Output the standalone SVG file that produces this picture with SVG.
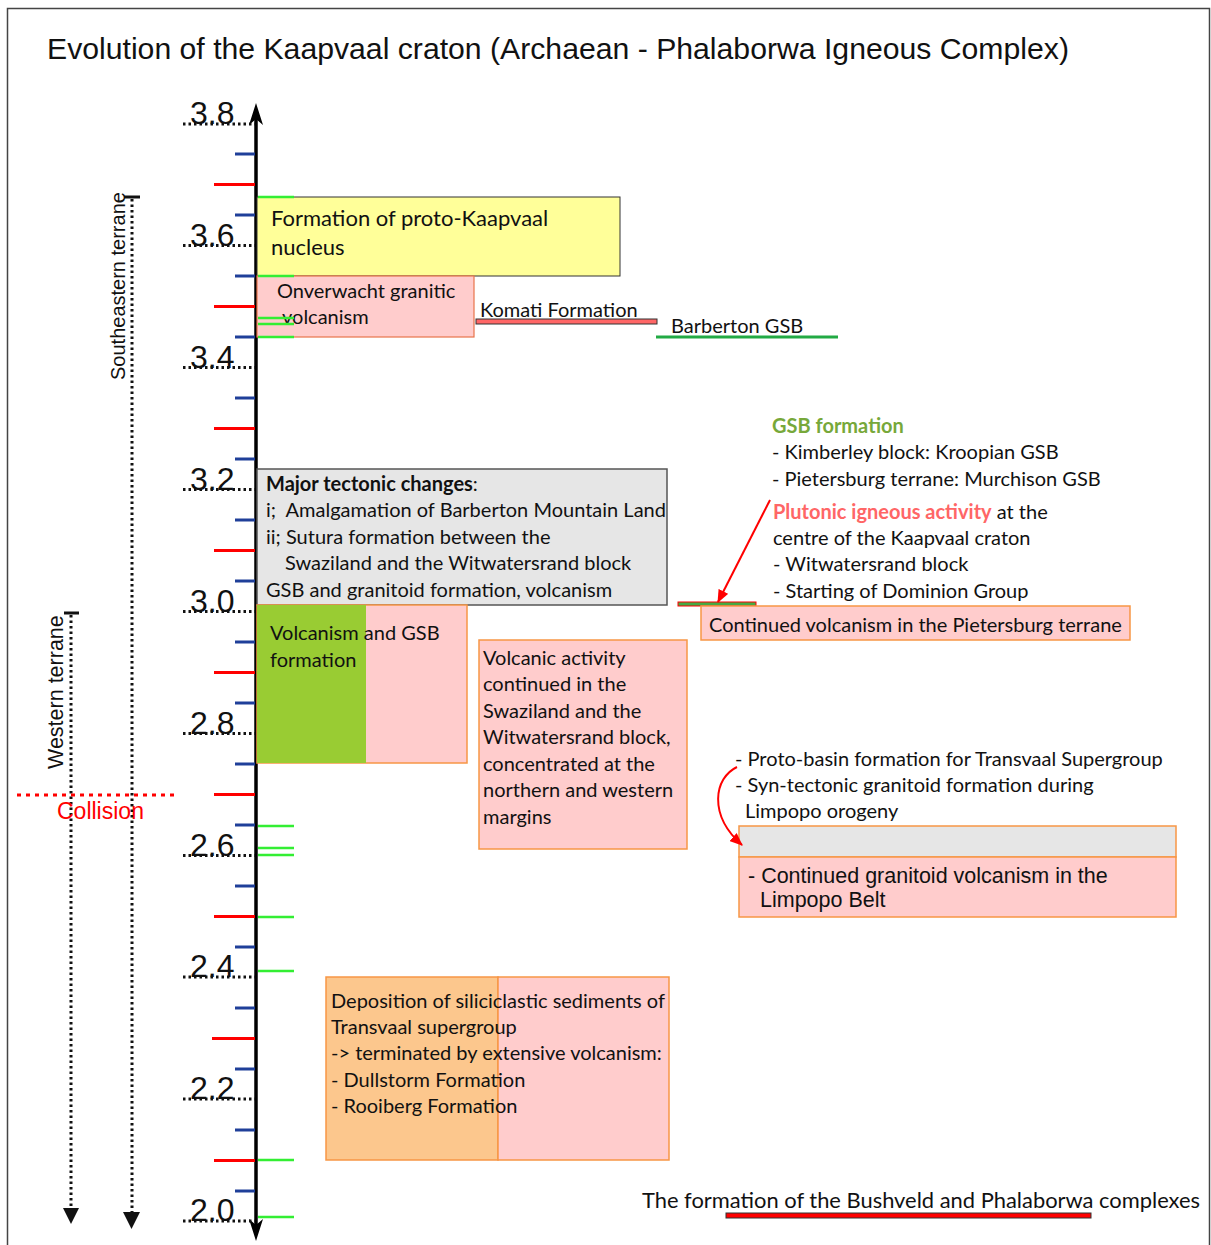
<svg xmlns="http://www.w3.org/2000/svg" width="1211" height="1245" viewBox="0 0 1211 1245">
<defs>
<style>
.box{font-family:Lato,"Noto Sans",sans-serif;font-size:20px;fill:#111}
.ar{font-family:"Liberation Sans",Arial,sans-serif;fill:#111}
.lab{font-family:"Liberation Sans",Arial,sans-serif;font-size:32px;fill:#111}
.pink{fill:#ffcccc;stroke:#f79646;stroke-width:1.5}
.tb{stroke:#1f3f99;stroke-width:3}
.tr{stroke:#ff0000;stroke-width:3}
.tg{stroke:#33ee33;stroke-width:2.5}
.dot{stroke:#111;stroke-width:3;stroke-dasharray:2.5 3;fill:none}
</style>
<marker id="redHead" viewBox="0 0 12 10" refX="11" refY="5" markerWidth="13" markerHeight="11" markerUnits="userSpaceOnUse" orient="auto">
<path d="M0,0 L12,5 L0,10 Z" fill="#ff0000"/>
</marker>
</defs>
<rect x="0" y="0" width="1211" height="1245" fill="#ffffff"/>
<rect x="7.5" y="8.5" width="1202" height="1260" fill="none" stroke="#444" stroke-width="1.5"/>
<text id="title" class="ar" x="47" y="59" font-size="30.2">Evolution of the Kaapvaal craton (Archaean - Phalaborwa Igneous Complex)</text>

<g id="axis">
<line x1="256" y1="112" x2="256" y2="1232" stroke="#000" stroke-width="3.5"/>
<path d="M256,103 L263,125 L256,119 L249,125 Z" fill="#000"/>
<path d="M256,1241 L263,1219 L256,1225 L249,1219 Z" fill="#000"/>
<g id="ticks">
<line class="tb" x1="235" y1="154" x2="255" y2="154"/>
<line class="tr" x1="214" y1="184.5" x2="255" y2="184.5"/>
<line class="tb" x1="235" y1="215" x2="255" y2="215"/>
<line class="tb" x1="235" y1="276" x2="255" y2="276"/>
<line class="tr" x1="214" y1="306.5" x2="255" y2="306.5"/>
<line class="tb" x1="235" y1="337" x2="255" y2="337"/>
<line class="tb" x1="235" y1="398" x2="255" y2="398"/>
<line class="tr" x1="214" y1="428.5" x2="255" y2="428.5"/>
<line class="tb" x1="235" y1="459" x2="255" y2="459"/>
<line class="tb" x1="235" y1="520" x2="255" y2="520"/>
<line class="tr" x1="214" y1="550.5" x2="255" y2="550.5"/>
<line class="tb" x1="235" y1="581" x2="255" y2="581"/>
<line class="tb" x1="235" y1="642" x2="255" y2="642"/>
<line class="tr" x1="214" y1="672.5" x2="255" y2="672.5"/>
<line class="tb" x1="235" y1="703" x2="255" y2="703"/>
<line class="tb" x1="235" y1="764" x2="255" y2="764"/>
<line class="tr" x1="214" y1="794.5" x2="255" y2="794.5"/>
<line class="tb" x1="235" y1="825" x2="255" y2="825"/>
<line class="tb" x1="235" y1="886" x2="255" y2="886"/>
<line class="tr" x1="214" y1="916.5" x2="255" y2="916.5"/>
<line class="tb" x1="235" y1="947" x2="255" y2="947"/>
<line class="tb" x1="235" y1="1008" x2="255" y2="1008"/>
<line class="tr" x1="212" y1="1038.5" x2="255" y2="1038.5"/>
<line class="tb" x1="235" y1="1069" x2="255" y2="1069"/>
<line class="tb" x1="235" y1="1130" x2="255" y2="1130"/>
<line class="tr" x1="214" y1="1160.5" x2="255" y2="1160.5"/>
<line class="tb" x1="235" y1="1191" x2="255" y2="1191"/>
</g>
<g id="labels">
<line class="dot" x1="183" y1="124" x2="255" y2="124"/><text class="lab" x="190" y="124">3.8</text>
<line class="dot" x1="183" y1="245.5" x2="255" y2="245.5"/><text class="lab" x="190" y="245.5">3.6</text>
<line class="dot" x1="183" y1="367.5" x2="255" y2="367.5"/><text class="lab" x="190" y="367.5">3.4</text>
<line class="dot" x1="183" y1="489.5" x2="255" y2="489.5"/><text class="lab" x="190" y="489.5">3.2</text>
<line class="dot" x1="183" y1="611.5" x2="255" y2="611.5"/><text class="lab" x="190" y="611.5">3.0</text>
<line class="dot" x1="183" y1="733.5" x2="255" y2="733.5"/><text class="lab" x="190" y="733.5">2.8</text>
<line class="dot" x1="183" y1="855.5" x2="255" y2="855.5"/><text class="lab" x="190" y="855.5">2.6</text>
<line class="dot" x1="183" y1="977" x2="255" y2="977"/><text class="lab" x="190" y="977">2.4</text>
<line class="dot" x1="183" y1="1099" x2="255" y2="1099"/><text class="lab" x="190" y="1099">2.2</text>
<line class="dot" x1="183" y1="1221" x2="255" y2="1221"/><text class="lab" x="190" y="1221">2.0</text>
</g>
</g>

<g id="terranes">
<line x1="124" y1="197" x2="140" y2="197" stroke="#111" stroke-width="3"/>
<line class="dot" x1="132" y1="199" x2="132" y2="1213"/>
<path d="M123,1212 L140,1212 L131.5,1229 Z" fill="#111"/>
<text class="ar" font-size="20" transform="translate(125,380) rotate(-90)">Southeastern terrane</text>
<line x1="64" y1="613" x2="79" y2="613" stroke="#111" stroke-width="3"/>
<line class="dot" x1="71" y1="615" x2="71" y2="1209"/>
<path d="M63,1208 L79,1208 L71,1224 Z" fill="#111"/>
<text class="ar" font-size="21.5" transform="translate(63,769) rotate(-90)">Western terrane</text>
<line x1="17" y1="795" x2="177" y2="795" stroke="#ff0000" stroke-width="3" stroke-dasharray="4 5"/>
<text class="ar" x="57" y="819" font-size="23" style="fill:#ff0000">Collision</text>
</g>

<g id="n-proto">
<rect x="257" y="197" width="363" height="79" fill="#ffff99" stroke="#333" stroke-width="1"/>
<text class="box" x="271" y="226" font-size="22" style="font-size:22px">Formation of proto-Kaapvaal</text>
<text class="box" x="271" y="255" style="font-size:22px">nucleus</text>
</g>
<g id="n-onverwacht">
<rect x="257" y="276" width="217" height="61" fill="#ffcccc" stroke="#e8734a" stroke-width="1.2"/>
<text class="box" x="277" y="298">Onverwacht granitic</text>
<text class="box" x="282" y="324">volcanism</text>
</g>
<g id="n-komati">
<rect x="476" y="319" width="181" height="5" fill="#ff6666" stroke="#333" stroke-width="1"/>
<text class="box" x="480" y="317">Komati Formation</text>
</g>
<g id="n-barberton">
<line x1="656" y1="337" x2="838" y2="337" stroke="#22aa44" stroke-width="3"/>
<text class="box" x="671" y="333">Barberton GSB</text>
</g>
<g id="n-tectonic">
<rect x="257" y="469" width="410" height="136" fill="#e6e6e6" stroke="#555" stroke-width="1.5"/>
<text class="box" x="266" y="491"><tspan font-weight="bold">Major tectonic changes</tspan>:</text>
<text class="box" x="266" y="517" xml:space="preserve">i;  Amalgamation of Barberton Mountain Land</text>
<text class="box" x="266" y="544">ii; Sutura formation between the</text>
<text class="box" x="285" y="570">Swaziland and the Witwatersrand block</text>
<text class="box" x="266" y="597">GSB and granitoid formation, volcanism</text>
</g>
<g id="n-volcgsb">
<rect class="pink" x="257" y="605" width="210" height="158"/>
<rect x="257" y="605" width="109" height="158" fill="#99cc33"/>
<text class="box" x="270" y="640">Volcanism and GSB</text>
<text class="box" x="270" y="667">formation</text>
</g>
<g id="n-volcactivity">
<rect class="pink" x="479" y="640" width="208" height="209"/>
<text class="box" x="483" y="665">Volcanic activity</text>
<text class="box" x="483" y="691">continued in the</text>
<text class="box" x="483" y="718">Swaziland and the</text>
<text class="box" x="483" y="744">Witwatersrand block,</text>
<text class="box" x="483" y="771">concentrated at the</text>
<text class="box" x="483" y="797">northern and western</text>
<text class="box" x="483" y="824">margins</text>
</g>
<g id="n-gsbformation">
<text class="box" x="772" y="433" font-weight="bold" style="fill:#77a83a">GSB formation</text>
<text class="box" x="772" y="459">- Kimberley block: Kroopian GSB</text>
<text class="box" x="772" y="486">- Pietersburg terrane: Murchison GSB</text>
<text class="box" x="773" y="519"><tspan font-weight="bold" style="fill:#ff6666">Plutonic igneous activity</tspan> at the</text>
<text class="box" x="773" y="545">centre of the Kaapvaal craton</text>
<text class="box" x="773" y="571">- Witwatersrand block</text>
<text class="box" x="773" y="598">- Starting of Dominion Group</text>
</g>
<g id="n-dominionbar">
<rect x="678" y="602" width="78" height="4" fill="#44aa44" stroke="#ff0000" stroke-width="1"/>
</g>
<g id="n-pietersburg">
<rect class="pink" x="701" y="606" width="429" height="34"/>
<text class="box" x="709" y="632">Continued volcanism in the Pietersburg terrane</text>
</g>
<g id="n-protobasin">
<text class="box" x="735" y="766">- Proto-basin formation for Transvaal Supergroup</text>
<text class="box" x="735" y="792">- Syn-tectonic granitoid formation during</text>
<text class="box" x="745" y="818">Limpopo orogeny</text>
</g>
<g id="n-limpopo">
<rect x="739" y="826" width="437" height="31" fill="#e6e6e6" stroke="#f79646" stroke-width="1.5"/>
<rect class="pink" x="739" y="857" width="437" height="60"/>
<text class="ar" x="748" y="883" font-size="21.5">- Continued granitoid volcanism in the</text>
<text class="ar" x="760" y="907" font-size="21.5">Limpopo Belt</text>
</g>
<g id="n-transvaal">
<rect x="326" y="977" width="172" height="183" fill="#fcc78d" stroke="#f79646" stroke-width="1.5"/>
<rect class="pink" x="498" y="977" width="171" height="183"/>
<text class="box" x="331" y="1008">Deposition of siliciclastic sediments of</text>
<text class="box" x="331" y="1034">Transvaal supergroup</text>
<text class="box" x="331" y="1060">-&gt; terminated by extensive volcanism:</text>
<text class="box" x="331" y="1087">- Dullstorm Formation</text>
<text class="box" x="331" y="1113">- Rooiberg Formation</text>
</g>
<g id="n-bushveld">
<text class="box" x="642" y="1208" style="font-size:21.9px">The formation of the Bushveld and Phalaborwa complexes</text>
<rect x="726" y="1213" width="365" height="5" fill="#ff0000" stroke="#333" stroke-width="1"/>
</g>

<g id="green-ticks">
<line class="tg" x1="258" y1="197" x2="294" y2="197"/>
<line class="tg" x1="258" y1="276" x2="294" y2="276"/>
<line class="tg" x1="258" y1="318" x2="294" y2="318"/>
<line class="tg" x1="258" y1="324" x2="294" y2="324"/>
<line class="tg" x1="258" y1="337" x2="294" y2="337"/>
<line class="tg" x1="258" y1="826" x2="294" y2="826"/>
<line class="tg" x1="258" y1="848" x2="294" y2="848"/>
<line class="tg" x1="258" y1="855" x2="294" y2="855"/>
<line class="tg" x1="258" y1="917" x2="294" y2="917"/>
<line class="tg" x1="258" y1="971" x2="294" y2="971"/>
<line class="tg" x1="258" y1="1160" x2="294" y2="1160"/>
<line class="tg" x1="258" y1="1217" x2="294" y2="1217"/>
</g>

<g id="connectors">
<line x1="770" y1="500" x2="718" y2="602" stroke="#ff0000" stroke-width="2" marker-end="url(#redHead)"/>
<path d="M737,767 C714,778 708,815 742,845" fill="none" stroke="#ff0000" stroke-width="2" marker-end="url(#redHead)"/>
</g>
</svg>
